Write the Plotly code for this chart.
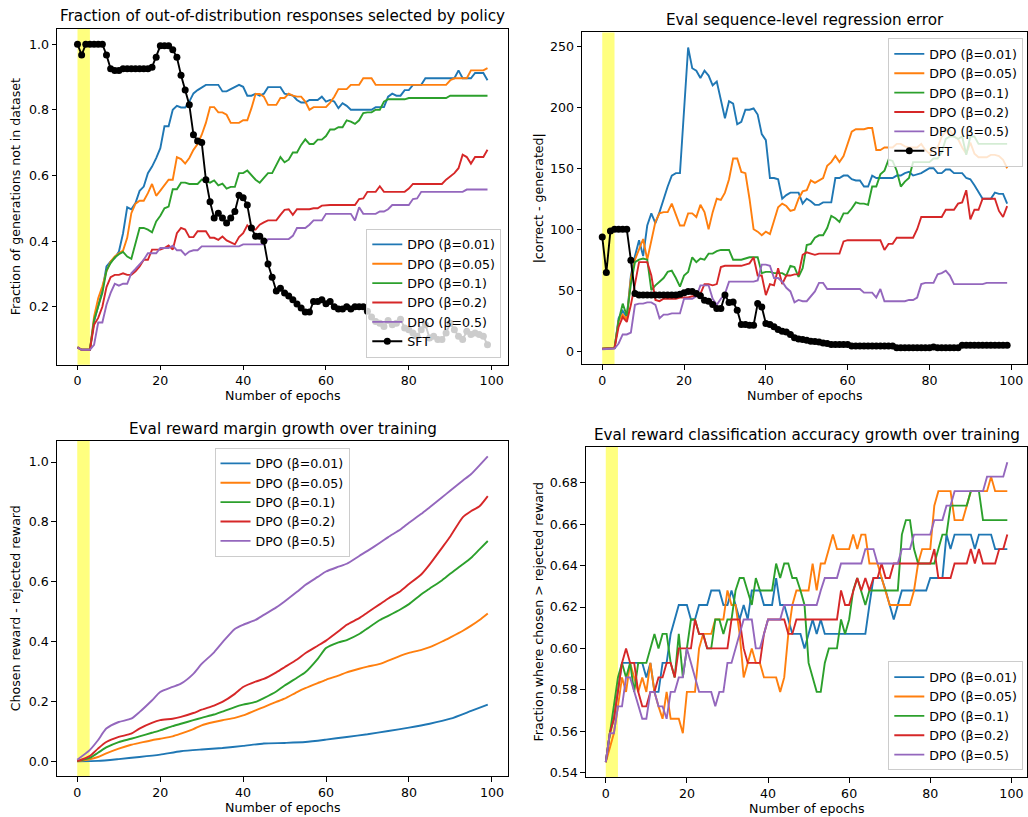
import plotly.graph_objects as go

W, H = 1028, 817

epochs = list(range(100))
labels = ["DPO (β=0.01)", "DPO (β=0.05)", "DPO (β=0.1)", "DPO (β=0.2)", "DPO (β=0.5)"]
sft_label = "SFT"
colors = ["#1f77b4", "#ff7f0e", "#2ca02c", "#d62728", "#9467bd"]

# ---------- Panel 1: fraction of OOD responses ----------
ood_b001 = [0.076, 0.069, 0.069, 0.069, 0.155, 0.200, 0.250, 0.323, 0.338, 0.348,
            0.368, 0.424, 0.503, 0.497, 0.516, 0.553, 0.566, 0.607, 0.627, 0.653,
            0.683, 0.750, 0.750, 0.800, 0.812, 0.807, 0.807, 0.825, 0.850, 0.860,
            0.869, 0.876, 0.876, 0.876, 0.876, 0.856, 0.856, 0.863, 0.870, 0.876,
            0.870, 0.843, 0.843, 0.849, 0.843, 0.849, 0.869, 0.869, 0.869, 0.869,
            0.849, 0.846, 0.843, 0.830, 0.822, 0.822, 0.830, 0.830, 0.830, 0.840,
            0.825, 0.830, 0.825, 0.805, 0.820, 0.812, 0.800, 0.800, 0.800, 0.800,
            0.800, 0.800, 0.808, 0.808, 0.808, 0.840, 0.849, 0.843, 0.843, 0.860,
            0.860, 0.876, 0.876, 0.876, 0.896, 0.896, 0.896, 0.896, 0.896, 0.896,
            0.896, 0.896, 0.920, 0.896, 0.896, 0.896, 0.912, 0.912, 0.912, 0.890]
ood_b005 = [0.076, 0.069, 0.069, 0.069, 0.170, 0.226, 0.262, 0.308, 0.338, 0.353,
            0.363, 0.371, 0.410, 0.485, 0.514, 0.523, 0.523, 0.546, 0.574, 0.538,
            0.554, 0.572, 0.587, 0.587, 0.656, 0.650, 0.636, 0.653, 0.678, 0.696,
            0.724, 0.760, 0.808, 0.808, 0.792, 0.792, 0.785, 0.760, 0.760, 0.760,
            0.768, 0.768, 0.805, 0.848, 0.848, 0.840, 0.815, 0.815, 0.815, 0.836,
            0.836, 0.849, 0.843, 0.840, 0.840, 0.825, 0.800, 0.808, 0.808, 0.808,
            0.808, 0.822, 0.840, 0.863, 0.863, 0.863, 0.876, 0.876, 0.876, 0.896,
            0.896, 0.896, 0.876, 0.876, 0.876, 0.876, 0.876, 0.876, 0.876, 0.876,
            0.876, 0.876, 0.876, 0.876, 0.876, 0.876, 0.876, 0.876, 0.876, 0.876,
            0.890, 0.896, 0.896, 0.896, 0.896, 0.920, 0.920, 0.920, 0.920, 0.927]
ood_b01 = [0.076, 0.069, 0.069, 0.069, 0.160, 0.200, 0.242, 0.310, 0.333, 0.350,
           0.360, 0.367, 0.353, 0.346, 0.394, 0.440, 0.440, 0.435, 0.427, 0.460,
           0.477, 0.500, 0.505, 0.558, 0.558, 0.578, 0.578, 0.574, 0.574, 0.574,
           0.587, 0.582, 0.578, 0.585, 0.570, 0.575, 0.560, 0.565, 0.565, 0.607,
           0.607, 0.615, 0.600, 0.587, 0.578, 0.592, 0.607, 0.607, 0.632, 0.656,
           0.640, 0.648, 0.670, 0.670, 0.693, 0.710, 0.696, 0.696, 0.709, 0.709,
           0.720, 0.740, 0.740, 0.747, 0.747, 0.768, 0.764, 0.757, 0.768, 0.790,
           0.792, 0.792, 0.800, 0.800, 0.825, 0.832, 0.832, 0.832, 0.832, 0.832,
           0.836, 0.836, 0.836, 0.836, 0.836, 0.836, 0.836, 0.836, 0.836, 0.836,
           0.843, 0.843, 0.843, 0.843, 0.843, 0.843, 0.843, 0.843, 0.843, 0.843]
ood_b02 = [0.076, 0.069, 0.069, 0.069, 0.145, 0.166, 0.200, 0.260, 0.290, 0.297,
           0.297, 0.302, 0.297, 0.297, 0.308, 0.323, 0.343, 0.343, 0.374, 0.374,
           0.374, 0.379, 0.387, 0.374, 0.424, 0.440, 0.435, 0.412, 0.412, 0.430,
           0.430, 0.430, 0.410, 0.410, 0.404, 0.414, 0.402, 0.396, 0.390, 0.412,
           0.424, 0.448, 0.435, 0.435, 0.450, 0.457, 0.463, 0.463, 0.463, 0.480,
           0.495, 0.497, 0.480, 0.497, 0.497, 0.497, 0.497, 0.500, 0.500, 0.508,
           0.510, 0.510, 0.510, 0.510, 0.510, 0.510, 0.510, 0.510, 0.528, 0.530,
           0.550, 0.550, 0.550, 0.567, 0.550, 0.550, 0.550, 0.550, 0.550, 0.550,
           0.560, 0.574, 0.574, 0.574, 0.574, 0.574, 0.574, 0.574, 0.574, 0.587,
           0.597, 0.607, 0.622, 0.663, 0.656, 0.636, 0.656, 0.656, 0.656, 0.678]
ood_b05 = [0.076, 0.069, 0.069, 0.069, 0.084, 0.152, 0.152, 0.206, 0.242, 0.270,
           0.264, 0.270, 0.270, 0.302, 0.315, 0.328, 0.343, 0.363, 0.363, 0.363,
           0.379, 0.379, 0.379, 0.386, 0.372, 0.372, 0.358, 0.368, 0.372, 0.372,
           0.384, 0.384, 0.384, 0.384, 0.384, 0.384, 0.384, 0.384, 0.384, 0.384,
           0.390, 0.390, 0.390, 0.390, 0.390, 0.390, 0.406, 0.406, 0.406, 0.406,
           0.406, 0.406, 0.416, 0.440, 0.440, 0.440, 0.450, 0.463, 0.463, 0.463,
           0.483, 0.483, 0.483, 0.483, 0.483, 0.483, 0.483, 0.463, 0.503, 0.483,
           0.483, 0.483, 0.483, 0.490, 0.490, 0.497, 0.510, 0.510, 0.510, 0.510,
           0.510, 0.528, 0.530, 0.550, 0.550, 0.550, 0.550, 0.550, 0.550, 0.550,
           0.550, 0.550, 0.550, 0.550, 0.557, 0.557, 0.557, 0.557, 0.557, 0.557]
ood_sft = [1.000, 0.967, 1.000, 1.000, 1.000, 1.000, 1.000, 0.967, 0.925, 0.920,
           0.920, 0.925, 0.925, 0.925, 0.925, 0.925, 0.925, 0.925, 0.930, 0.960,
           0.995, 0.995, 0.995, 0.983, 0.960, 0.905, 0.860, 0.815, 0.724, 0.705,
           0.700, 0.587, 0.520, 0.470, 0.485, 0.470, 0.455, 0.470, 0.490, 0.540,
           0.532, 0.510, 0.440, 0.415, 0.415, 0.400, 0.330, 0.290, 0.248, 0.256,
           0.242, 0.233, 0.221, 0.208, 0.196, 0.184, 0.184, 0.216, 0.216, 0.221,
           0.209, 0.216, 0.200, 0.193, 0.193, 0.200, 0.193, 0.200, 0.200, 0.200,
           0.186, 0.169, 0.155, 0.150, 0.140, 0.158, 0.145, 0.150, 0.162, 0.135,
           0.130, 0.120, 0.110, 0.130, 0.145, 0.105, 0.110, 0.100, 0.100, 0.120,
           0.150, 0.130, 0.110, 0.100, 0.125, 0.115, 0.120, 0.115, 0.110, 0.084]

# ---------- Panel 2: sequence-level regression error ----------
reg_b001 = [2, 2, 2, 2.5, 27, 33, 28, 62, 78, 91,
            78, 103, 113, 105, 114, 125, 135, 144, 146, 146,
            201, 249, 232, 230, 224, 230, 226, 218, 221, 206,
            191, 205, 203, 186, 188, 198, 198, 199, 194, 178,
            173, 142, 142, 141, 125, 128, 130, 130, 130, 121,
            125, 123, 120, 120, 122, 122, 122, 142, 142, 144,
            144, 141, 140, 140, 135, 135, 144, 142, 142, 142,
            142, 142, 144, 144, 146, 147, 144, 145, 146, 148,
            150, 150, 146, 146, 149, 149, 146, 146, 146, 142,
            141, 136, 130, 125, 125, 125, 130, 129, 129, 121]
reg_b005 = [2, 2, 2, 2.5, 25, 30, 26, 60, 75, 83,
            92, 75, 91, 106, 113, 114, 114, 121, 112, 103,
            103, 113, 113, 110, 120, 114, 100, 114, 125, 124,
            130, 141, 158, 158, 147, 146, 125, 100, 98, 95,
            98, 96, 107, 118, 121, 119, 115, 116, 125, 131,
            132, 140, 138, 140, 142, 152, 155, 160, 155, 160,
            170, 180, 182, 182, 182, 183, 183, 165, 165, 167,
            167, 167, 170, 170, 168, 167, 167, 167, 170, 165,
            162, 166, 167, 176, 180, 181, 176, 174, 167, 162,
            171, 162, 159, 159, 159, 161, 161, 160, 157, 150]
reg_b01 = [2, 2, 2, 2.5, 25, 39, 29, 55, 73, 75,
           76, 75, 50, 54, 57, 60, 65, 66, 60, 53,
           62, 65, 77, 73, 76, 75, 80, 80, 82, 83,
           83, 83, 75, 75, 75, 76, 77, 77, 77, 64,
           65, 65, 64, 64, 64, 62, 70, 69, 61, 68,
           87, 88, 93, 95, 95, 101, 111, 109, 106, 113,
           113, 117, 122, 121, 121, 120, 135, 135, 145, 148,
           157, 156, 148, 135, 139, 142, 155, 155, 155, 155,
           155, 158, 158, 163, 174, 176, 176, 174, 176, 161,
           176, 176, 170, 170, 170, 170, 170, 170, 170, 170]
reg_b02 = [2, 2, 2, 2.5, 20, 28, 24, 38, 55, 73,
           73, 73, 62, 42, 41, 43, 43, 43, 43, 44,
           44, 44, 45, 45, 47, 55, 55, 54, 55, 69,
           70, 70, 70, 70, 70, 71, 72, 77, 62, 62,
           46, 55, 54, 68, 55, 62, 62, 63, 63, 79,
           81, 80, 79, 80, 80, 80, 80, 80, 80, 90,
           91, 91, 91, 91, 91, 91, 91, 91, 91, 83,
           88, 88, 93, 93, 93, 93, 93, 100, 110, 110,
           110, 110, 110, 110, 116, 116, 116, 121, 122, 132,
           108, 116, 116, 125, 125, 125, 125, 115, 110, 119]
reg_b05 = [1.6, 1.6, 1.6, 2.2, 6.3, 13.7, 13.7, 15.3, 38, 39,
           39, 40, 40, 38, 27, 30, 30, 31, 31, 31,
           43, 43, 43, 45, 54, 54, 54, 43, 38, 43,
           47, 57, 57, 57, 57, 57, 57, 57, 58, 71,
           71, 70, 60, 60, 57, 52, 49, 40, 42, 41,
           41, 45, 49, 56, 56, 51, 51, 51, 51, 51,
           51, 51, 51, 51, 48, 48, 48, 44, 51, 41,
           41, 41, 41, 41, 41, 42, 42, 44, 55, 56,
           56, 56, 63, 64, 66, 62, 55, 55, 55, 55,
           55, 55, 55, 55, 56, 56, 56, 56, 56, 56]
reg_sft = [93.7, 64.5, 98.6, 100, 100, 100, 100, 74.6, 47.3, 46,
           46, 46, 46, 46, 46, 46, 46, 46, 46, 46.7,
           48, 49, 49, 47.3, 45.4, 41.8, 41, 38.3, 35, 35,
           46, 40, 40.4, 33.6, 21.9, 21.9, 21.3, 21.3, 39, 36.3,
           22.7, 21.9, 20, 17.8, 16.4, 15.8, 13.7, 11, 10, 9.5,
           9, 8.2, 8, 7.5, 6.8, 6.2, 5.5, 5.5, 5.5, 5.5,
           5.5, 4.2, 4.2, 4.2, 4.2, 4.2, 4.2, 4.2, 4.2, 4.2,
           4.2, 4.2, 2.8, 2.8, 2.8, 2.8, 2.8, 2.8, 2.8, 2.8,
           2.8, 3.5, 2.8, 2.8, 2.8, 2.8, 2.8, 2.8, 4.8, 4.8,
           4.8, 4.8, 4.8, 4.8, 4.8, 4.8, 4.8, 4.8, 4.8, 4.8]

# ---------- Panel 3: reward margin ----------
margin_epochs = [0, 3, 5, 7, 10, 13, 15, 18, 20, 23, 25, 28, 30, 33, 35, 38, 40, 43, 45, 48,
                 50, 53, 55, 58, 60, 63, 65, 68, 70, 73, 75, 78, 80, 83, 85, 88, 90, 93, 95, 97, 99]
margin_epochs_b001 = [0, 5, 10, 15, 20, 25, 30, 35, 40, 45, 50, 55, 60, 65, 70, 75, 80, 85, 90, 95, 99]
margin_b001 = [0.000, 0.001, 0.007, 0.014, 0.022, 0.033, 0.039, 0.044, 0.051, 0.059, 0.061,
               0.064, 0.072, 0.081, 0.090, 0.101, 0.112, 0.125, 0.142, 0.168, 0.189]
margin_b005 = [0.000, 0.006, 0.014, 0.026, 0.042, 0.055, 0.061, 0.070, 0.075, 0.083, 0.092,
               0.107, 0.120, 0.131, 0.137, 0.145, 0.153, 0.170, 0.181, 0.198, 0.209, 0.231,
               0.244, 0.261, 0.272, 0.286, 0.297, 0.309, 0.316, 0.325, 0.336, 0.353, 0.362,
               0.372, 0.381, 0.400, 0.414, 0.436, 0.453, 0.472, 0.494]
margin_b01 = [0.000, 0.011, 0.028, 0.046, 0.064, 0.075, 0.083, 0.095, 0.103, 0.117, 0.125,
              0.137, 0.145, 0.156, 0.166, 0.181, 0.189, 0.198, 0.211, 0.233, 0.253, 0.279,
              0.297, 0.342, 0.378, 0.397, 0.405, 0.425, 0.444, 0.472, 0.486, 0.508, 0.525,
              0.558, 0.577, 0.605, 0.627, 0.658, 0.680, 0.708, 0.736]
margin_b02 = [0.000, 0.017, 0.042, 0.064, 0.081, 0.092, 0.109, 0.128, 0.137, 0.142, 0.148,
              0.161, 0.172, 0.186, 0.198, 0.225, 0.248, 0.266, 0.275, 0.297, 0.314, 0.340,
              0.361, 0.386, 0.403, 0.434, 0.456, 0.478, 0.497, 0.525, 0.544, 0.569, 0.592,
              0.625, 0.658, 0.714, 0.752, 0.816, 0.836, 0.852, 0.886]
margin_b05 = [0.005, 0.037, 0.070, 0.109, 0.131, 0.142, 0.164, 0.203, 0.231, 0.248, 0.259,
              0.292, 0.325, 0.364, 0.397, 0.442, 0.456, 0.472, 0.489, 0.514, 0.534, 0.566,
              0.589, 0.616, 0.634, 0.650, 0.660, 0.686, 0.703, 0.730, 0.749, 0.775, 0.797,
              0.827, 0.849, 0.882, 0.905, 0.938, 0.960, 0.989, 1.019]

# ---------- Panel 4: reward classification accuracy ----------
acc_b001 = [0.545, 0.559, 0.566, 0.579, 0.593, 0.593, 0.593, 0.593, 0.593, 0.593,
            0.586, 0.593, 0.579, 0.579, 0.593, 0.593, 0.607, 0.614, 0.621, 0.621,
            0.621, 0.614, 0.614, 0.621, 0.621, 0.621, 0.628, 0.628, 0.628, 0.621,
            0.621, 0.628, 0.621, 0.614, 0.621, 0.614, 0.628, 0.628, 0.628, 0.621,
            0.621, 0.621, 0.634, 0.621, 0.621, 0.614, 0.607, 0.607, 0.607, 0.600,
            0.607, 0.614, 0.607, 0.614, 0.607, 0.607, 0.607, 0.607, 0.607, 0.607,
            0.607, 0.607, 0.607, 0.607, 0.607, 0.621, 0.634, 0.634, 0.634, 0.628,
            0.621, 0.614, 0.621, 0.628, 0.628, 0.628, 0.628, 0.628, 0.628, 0.628,
            0.634, 0.634, 0.634, 0.634, 0.655, 0.648, 0.655, 0.655, 0.655, 0.655,
            0.655, 0.648, 0.655, 0.655, 0.655, 0.655, 0.648, 0.648, 0.648, 0.648]
acc_b005 = [0.545, 0.552, 0.559, 0.572, 0.586, 0.579, 0.593, 0.586, 0.579, 0.586,
            0.579, 0.593, 0.579, 0.572, 0.566, 0.579, 0.566, 0.566, 0.566, 0.559,
            0.579, 0.579, 0.579, 0.600, 0.607, 0.607, 0.607, 0.614, 0.614, 0.614,
            0.628, 0.621, 0.621, 0.607, 0.586, 0.593, 0.600, 0.593, 0.593, 0.586,
            0.586, 0.586, 0.586, 0.579, 0.586, 0.607, 0.621, 0.628, 0.628, 0.628,
            0.628, 0.641, 0.628, 0.641, 0.641, 0.648, 0.655, 0.648, 0.648, 0.648,
            0.648, 0.655, 0.648, 0.655, 0.655, 0.641, 0.641, 0.641, 0.634, 0.628,
            0.621, 0.621, 0.621, 0.621, 0.621, 0.621, 0.628, 0.641, 0.648, 0.648,
            0.648, 0.669, 0.676, 0.676, 0.676, 0.676, 0.662, 0.662, 0.662, 0.669,
            0.676, 0.676, 0.676, 0.676, 0.676, 0.683, 0.676, 0.676, 0.676, 0.676]
acc_b01 = [0.545, 0.559, 0.572, 0.586, 0.593, 0.586, 0.593, 0.579, 0.593, 0.593,
           0.593, 0.600, 0.607, 0.600, 0.607, 0.607, 0.593, 0.586, 0.607, 0.586,
           0.600, 0.614, 0.614, 0.607, 0.607, 0.600, 0.600, 0.614, 0.614, 0.607,
           0.614, 0.614, 0.628, 0.634, 0.634, 0.628, 0.621, 0.634, 0.628, 0.628,
           0.628, 0.628, 0.641, 0.634, 0.641, 0.641, 0.634, 0.634, 0.628, 0.621,
           0.593, 0.586, 0.579, 0.579, 0.593, 0.600, 0.600, 0.600, 0.614, 0.607,
           0.614, 0.628, 0.634, 0.628, 0.621, 0.628, 0.628, 0.628, 0.628, 0.628,
           0.628, 0.628, 0.628, 0.655, 0.662, 0.662, 0.648, 0.641, 0.641, 0.641,
           0.641, 0.641, 0.648, 0.655, 0.655, 0.669, 0.669, 0.669, 0.669, 0.669,
           0.676, 0.676, 0.676, 0.662, 0.662, 0.662, 0.662, 0.662, 0.662, 0.662]
acc_b02 = [0.545, 0.559, 0.566, 0.579, 0.593, 0.600, 0.593, 0.593, 0.579, 0.572,
           0.572, 0.579, 0.579, 0.586, 0.586, 0.593, 0.593, 0.586, 0.600, 0.600,
           0.600, 0.600, 0.614, 0.607, 0.607, 0.600, 0.600, 0.600, 0.600, 0.600,
           0.600, 0.614, 0.614, 0.614, 0.600, 0.593, 0.593, 0.593, 0.593, 0.607,
           0.614, 0.614, 0.614, 0.614, 0.614, 0.607, 0.607, 0.614, 0.614, 0.614,
           0.614, 0.614, 0.614, 0.614, 0.614, 0.614, 0.614, 0.614, 0.628, 0.621,
           0.621, 0.628, 0.634, 0.628, 0.634, 0.628, 0.634, 0.634, 0.641, 0.634,
           0.634, 0.641, 0.641, 0.641, 0.641, 0.641, 0.641, 0.641, 0.641, 0.641,
           0.641, 0.648, 0.634, 0.634, 0.634, 0.634, 0.641, 0.641, 0.641, 0.641,
           0.648, 0.641, 0.648, 0.641, 0.641, 0.641, 0.641, 0.648, 0.648, 0.655]
acc_b05 = [0.545, 0.559, 0.559, 0.572, 0.572, 0.586, 0.586, 0.579, 0.572, 0.566,
           0.566, 0.579, 0.579, 0.572, 0.572, 0.566, 0.579, 0.579, 0.586, 0.586,
           0.600, 0.593, 0.586, 0.579, 0.579, 0.579, 0.579, 0.572, 0.579, 0.579,
           0.593, 0.593, 0.600, 0.607, 0.614, 0.614, 0.614, 0.600, 0.600, 0.607,
           0.614, 0.614, 0.614, 0.614, 0.621, 0.621, 0.621, 0.621, 0.621, 0.621,
           0.621, 0.621, 0.621, 0.628, 0.634, 0.634, 0.634, 0.634, 0.641, 0.641,
           0.641, 0.641, 0.641, 0.641, 0.648, 0.648, 0.648, 0.641, 0.641, 0.641,
           0.641, 0.641, 0.641, 0.648, 0.648, 0.648, 0.655, 0.655, 0.655, 0.655,
           0.655, 0.662, 0.662, 0.662, 0.669, 0.669, 0.676, 0.676, 0.676, 0.676,
           0.676, 0.676, 0.676, 0.676, 0.683, 0.683, 0.683, 0.683, 0.683, 0.690]

titles = ["Fraction of out-of-distribution responses selected by policy",
          "Eval sequence-level regression error",
          "Eval reward margin growth over training",
          "Eval reward classification accuracy growth over training"]
ylabels = ["Fraction of generations not in dataset",
           "|correct - generated|",
           "Chosen reward - rejected reward",
           "Fraction where chosen > rejected reward"]
xlabel = "Number of epochs"

for arr in [ood_b001, ood_b005, ood_b01, ood_b02, ood_b05, ood_sft,
            reg_b001, reg_b005, reg_b01, reg_b02, reg_b05, reg_sft,
            acc_b001, acc_b005, acc_b01, acc_b02, acc_b05]:
    assert len(arr) == 100, len(arr)
for arr in [margin_b005, margin_b01, margin_b02, margin_b05]:
    assert len(arr) == len(margin_epochs)
assert len(margin_b001) == len(margin_epochs_b001)

FONT = "DejaVu Sans"
FS = 12.6        # tick / label / legend text
FS_TITLE = 15.2  # subplot titles


def px_x(p):
    return p / W


def px_y(p):
    return 1 - p / H


# axes boxes in pixels: (left, right, top, bottom)
boxes = [(57, 508, 29, 366), (582, 1027.4, 32.5, 365.7),
         (56.7, 508.3, 442.7, 779.3), (585.7, 1027.4, 448.7, 780)]

fig = go.Figure()

lw = 1.9
panels = [
    (epochs, [ood_b001, ood_b005, ood_b01, ood_b02, ood_b05], ood_sft, "legend"),
    (epochs, [reg_b001, reg_b005, reg_b01, reg_b02, reg_b05], reg_sft, "legend2"),
]
for i, (xs, series, sft, leg) in enumerate(panels):
    ax = "" if i == 0 else str(i + 1)
    for s, lab, col in zip(series, labels, colors):
        fig.add_trace(go.Scatter(x=xs, y=s, mode="lines", name=lab,
                                 line=dict(color=col, width=lw),
                                 xaxis="x" + ax, yaxis="y" + ax, legend=leg))
    fig.add_trace(go.Scatter(x=xs, y=sft, mode="lines+markers", name=sft_label,
                             line=dict(color="black", width=lw),
                             marker=dict(color="black", size=7),
                             xaxis="x" + ax, yaxis="y" + ax, legend=leg))

margin_x = [margin_epochs_b001, margin_epochs, margin_epochs, margin_epochs, margin_epochs]
margin_y = [margin_b001, margin_b005, margin_b01, margin_b02, margin_b05]
for xs, s, lab, col in zip(margin_x, margin_y, labels, colors):
    fig.add_trace(go.Scatter(x=xs, y=s, mode="lines", name=lab,
                             line=dict(color=col, width=lw, shape="spline", smoothing=0.6),
                             xaxis="x3", yaxis="y3", legend="legend3"))

for s, lab, col in zip([acc_b001, acc_b005, acc_b01, acc_b02, acc_b05], labels, colors):
    fig.add_trace(go.Scatter(x=epochs, y=s, mode="lines", name=lab,
                             line=dict(color=col, width=lw),
                             xaxis="x4", yaxis="y4", legend="legend4"))


def axis(**kw):
    d = dict(showline=True, linecolor="black", linewidth=1, mirror=True,
             ticks="outside", ticklen=4.4, tickwidth=1, tickcolor="black",
             showgrid=False, zeroline=False,
             tickfont=dict(family=FONT, size=FS, color="black"))
    d.update(kw)
    return d


yranges = [[0.0235, 1.0465], [-10.8, 261.4], [-0.051, 1.07], [0.5378, 0.6973]]
ytickvals = [[0.2, 0.4, 0.6, 0.8, 1.0], [0, 50, 100, 150, 200, 250],
             [0.0, 0.2, 0.4, 0.6, 0.8, 1.0],
             [0.54, 0.56, 0.58, 0.60, 0.62, 0.64, 0.66, 0.68]]
yfmts = [".1f", "d", ".1f", ".2f"]

layout = dict(width=W, height=H, autosize=False,
              margin=dict(l=0, r=0, t=0, b=0),
              paper_bgcolor="white", plot_bgcolor="white",
              font=dict(family=FONT, size=FS, color="black"),
              showlegend=True)
annotations = []
shapes = []
for i, (l, r, t, b) in enumerate(boxes):
    n = "" if i == 0 else str(i + 1)
    layout["xaxis" + n] = axis(domain=[px_x(l), px_x(r)], range=[-4.95, 103.95],
                               tickvals=[0, 20, 40, 60, 80, 100],
                               anchor="y" + n)
    layout["yaxis" + n] = axis(domain=[px_y(b), px_y(t)], range=yranges[i],
                               tickvals=ytickvals[i], tickformat=yfmts[i],
                               anchor="x" + n)
    shapes.append(dict(type="rect", xref="x" + n, yref="y" + n + " domain",
                       x0=0, x1=3, y0=0, y1=1, fillcolor="rgba(255,255,0,0.5)",
                       line=dict(width=0), layer="below"))
    # title
    annotations.append(dict(text=titles[i], xref="paper", yref="paper",
                            x=px_x((l + r) / 2), y=px_y(t - 12.5), xanchor="center",
                            yanchor="middle", showarrow=False,
                            font=dict(family=FONT, size=FS_TITLE, color="black")))
    # x label
    annotations.append(dict(text=xlabel, xref="paper", yref="paper",
                            x=px_x((l + r) / 2), y=px_y(b + 31), xanchor="center",
                            yanchor="middle", showarrow=False,
                            font=dict(family=FONT, size=FS, color="black")))

ylab_x = [15.5, 538, 15.5, 538.5]
for i, (l, r, t, b) in enumerate(boxes):
    annotations.append(dict(text=ylabels[i], xref="paper", yref="paper",
                            x=px_x(ylab_x[i]), y=px_y((t + b) / 2), xanchor="center",
                            yanchor="middle", textangle=-90, showarrow=False,
                            font=dict(family=FONT, size=FS, color="black")))

leg_common = dict(bgcolor="rgba(255,255,255,0.8)", bordercolor="#cccccc", borderwidth=1,
                  font=dict(family=FONT, size=FS, color="black"), tracegroupgap=0,
                  itemwidth=30)
layout["legend"] = dict(x=px_x(501.3), y=px_y(359), xanchor="right", yanchor="bottom", **leg_common)
layout["legend2"] = dict(x=px_x(1023.3), y=px_y(38.3), xanchor="right", yanchor="top", **leg_common)
layout["legend3"] = dict(x=px_x(282), y=px_y(449.3), xanchor="center", yanchor="top", **leg_common)
layout["legend4"] = dict(x=px_x(1023.3), y=px_y(773.3), xanchor="right", yanchor="bottom", **leg_common)
layout["annotations"] = annotations
layout["shapes"] = shapes

fig.update_layout(**layout)
fig.write_html("out.html")
